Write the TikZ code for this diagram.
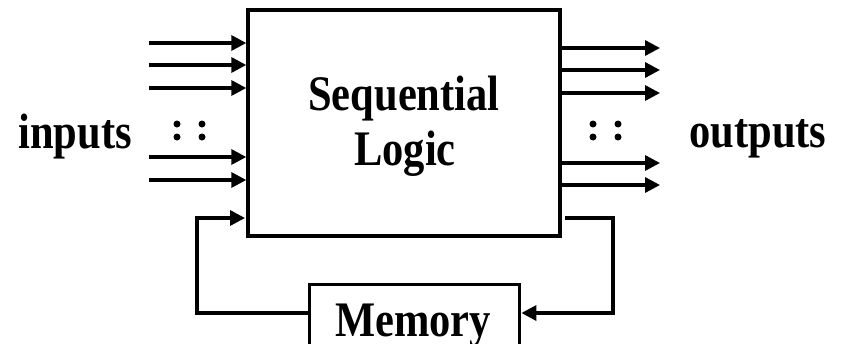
\documentclass[tikz,border=0pt]{standalone}
\usepackage{fontspec}
\setmainfont{Liberation Serif}
\usetikzlibrary{arrows.meta}
% tall bold lettering used for every label
\newcommand{\tallbf}[1]{\scalebox{1}[1.17]{\fontsize{42.5}{42.5}\selectfont\bfseries #1}}
\begin{document}
\begin{tikzpicture}[x=1pt,y=-1pt,
  wire/.style={line width=3.3pt},
  sig/.style={wire,-{Triangle[length=15pt,width=15pt]}},
  block/.style={draw,line width=3.4pt,rectangle,inner sep=0pt},
  lbl/.style={inner sep=0pt,anchor=base},
  dot/.style={circle,fill,inner sep=0pt,minimum size=7pt}]
\useasboundingbox (0,0) rectangle (842,343);
\clip (0,0) rectangle (842,343);

% main block and memory
\node[block,minimum width=312pt,minimum height=226pt] (seq) at (404,123) {};
\node[lbl] (seqa) at (404,110) {\tallbf{Sequential}};
\node[lbl] (seqb) at (405,165) {\tallbf{Logic}};
\node[block,minimum width=210pt,minimum height=100pt,anchor=north west] (memb) at (308,283) {};
\node[lbl] (memt) at (413,336) {\tallbf{Memory}};

% side labels
\node[lbl] (in) at (75,148) {\tallbf{inputs}};
\node[lbl] (out) at (758,147) {\tallbf{outputs}};

% input lines
\foreach \i/\y in {1/43,2/65,3/88,4/157,5/180}{
  \coordinate (a\i) at (149,\y);
  \draw[sig] (a\i) -- (seq.west |- a\i);
}
% output lines
\foreach \i/\y in {1/48,2/70,3/93,4/163,5/185}{
  \coordinate (b\i) at (660,\y);
  \draw[sig] (seq.east |- b\i) -- (b\i);
}

% ellipsis dots
\foreach \x in {177,202,593,618}{
  \node[dot] at (\x,124) {};
  \node[dot] at (\x,137) {};
}

% feedback loop
\coordinate (fo) at (565,218);
\coordinate (fi) at (245,218);
\draw[sig] (fo) -| (613,313) -- (memb.east |- 0,313);
\draw[sig] (memb.west |- 0,313) -| (197,218) -- (fi);
\end{tikzpicture}
\end{document}
